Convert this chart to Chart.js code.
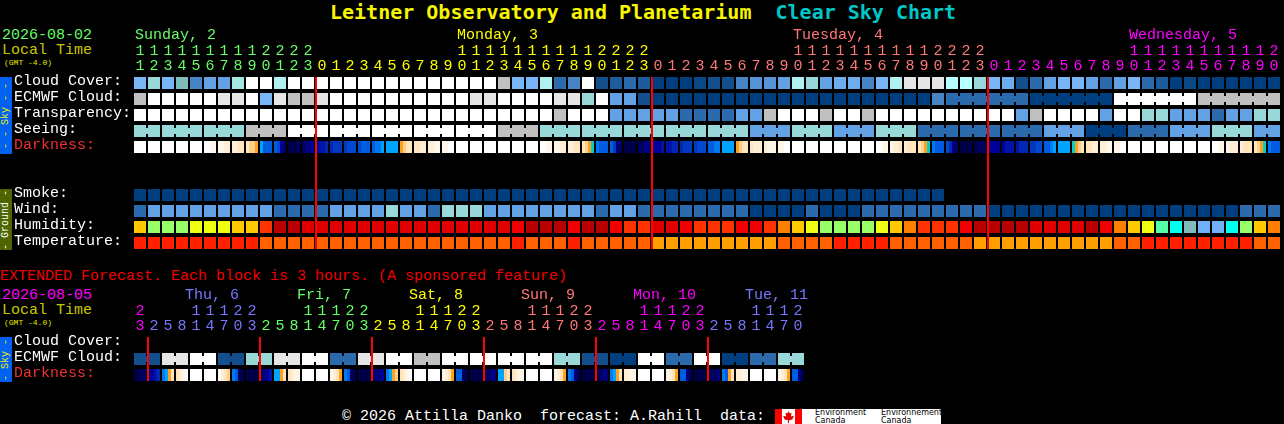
<!DOCTYPE html>
<html>
<head>
<meta charset="utf-8">
<title>Clear Sky Chart</title>
<script src="https://cdn.jsdelivr.net/npm/chart.js@4/dist/chart.umd.min.js"></script>
<style>
  html, body { margin: 0; background: #000; overflow: hidden; }
  #page { position: relative; width: 1284px; height: 424px; overflow: hidden; font-family: "Liberation Mono", monospace; font-size: 15px; }
  canvas { position: absolute; left: 0; }
  .t { position: absolute; white-space: pre; line-height: 16px; }
  .side { position: absolute; left: 0; width: 12px; overflow: hidden; }
  .side span { position: absolute; left: 50%; top: 50%; transform: translate(-50%, -50%) rotate(-90deg); font-size: 10px; white-space: pre; line-height: 12px; }
  #logo { position: absolute; left: 775px; top: 409px; width: 166px; height: 15px; background: #fff; overflow: hidden; }
  #logo div { position: absolute; }
  #logo .en { color: #000; font: 8px/8px "DejaVu Sans", sans-serif; white-space: pre; top: 0; }
</style>
</head>
<body>
<div id="page">
  <div class="t" style="left:330px;top:0;line-height:24px;font-size:20px;font-weight:bold;font-family:'DejaVu Sans Mono',monospace;color:#f6f600">Leitner Observatory and Planetarium  <span style="color:#00c8c8">Clear Sky Chart</span></div>
  <div class="t" style="left:2px;top:28px;color:#66ff66">2026-08-02</div>
  <div class="t" style="left:2px;top:43px;color:#c8c800">Local Time</div>
  <div class="t" style="left:4px;top:58px;font-size:8px;line-height:10px;color:#e8e800">(GMT -4.0)</div>
  <div class="side" style="top:77px;height:77px;background:#0060f0;color:#f0f000"><span>- - Sky - -</span></div>
  <div class="side" style="top:189px;height:61px;background:#506400;color:#fff"><span>- Ground -</span></div>
  <canvas id="mainChart" width="1284" height="251" style="top:0"></canvas>

  <div class="t" style="left:0;top:269px;color:#f00000">EXTENDED Forecast. Each block is 3 hours. (A sponsored feature)</div>
  <div class="t" style="left:2px;top:288px;color:#ff00ff">2026-08-05</div>
  <div class="t" style="left:2px;top:303px;color:#c8c800">Local Time</div>
  <div class="t" style="left:4px;top:318px;font-size:8px;line-height:10px;color:#e8e800">(GMT -4.0)</div>
  <div class="side" style="top:337px;height:45px;background:#0060f0;color:#f0f000"><span>- Sky -</span></div>
  <canvas id="extChart" width="1284" height="113" style="top:270px"></canvas>

  <div class="t" style="left:342px;top:409px;color:#fff">© 2026 Attilla Danko  forecast: A.Rahill  data:</div>
  <div id="logo">
    <div style="left:0;top:0;width:7px;height:15px;background:#ff0000"></div>
    <div style="left:20px;top:0;width:7px;height:15px;background:#ff0000"></div>
    <div style="left:8px;top:2px;width:11px;height:12px;background:#e00000;clip-path:polygon(50% 0,62% 20%,78% 15%,72% 45%,100% 40%,85% 70%,55% 78%,55% 100%,45% 100%,45% 78%,15% 70%,0 40%,28% 45%,22% 15%,38% 20%)"></div>
    <div class="en" style="left:40px">Environment
Canada</div>
    <div class="en" style="left:106px">Environnement
Canada</div>
  </div>
</div>

<script>
// ---- datos del pronostico por hora (una columna = 1 hora) ----
const hours = [11,12,13,14,15,16,17,18,19,20,21,22,23,
  0,1,2,3,4,5,6,7,8,9,10,11,12,13,14,15,16,17,18,19,20,21,22,23,
  0,1,2,3,4,5,6,7,8,9,10,11,12,13,14,15,16,17,18,19,20,21,22,23,
  0,1,2,3,4,5,6,7,8,9,10,11,12,13,14,15,16,17,18,19,20];
const dayNames = ['Sunday, 2', 'Monday, 3', 'Tuesday, 4', 'Wednesday, 5'];
const dayNameCols = [0, 23, 47, 71];
const dayFirstCols = [0, 13, 37, 61];
const dayColors = ['#66ff66', '#ffff00', '#ff7777', '#ff00ff'];

const cloudCover = [50,65,50,60,30,40,40,68,100,100,
  70,100,100,100,100,100,100,100,100,100,
  100,100,100,100,100,100,80,50,50,70,
  20,30,100,10,15,20,15,0,0,0,
  5,10,10,30,35,35,40,70,65,40,
  45,45,30,50,70,90,90,90,72,72,
  65,50,45,10,20,40,50,50,40,20,
  40,50,20,15,0,5,0,0,0,0,
  0,0];
const ecmwfCloud = [80,100,100,100,100,100,90,90,100,50,
  90,80,80,90,100,100,100,100,100,100,
  100,100,100,100,90,90,100,100,100,100,
  90,90,65,100,40,40,10,0,0,0,
  0,0,0,0,0,0,0,0,0,0,
  0,0,0,0,0,0,0,30,20,20,
  20,20,20,20,0,0,0,0,0,0,
  100,100,100,100,100,100,80,80,80,80,
  80,80];
const ecmwfRuns = [1,1,1,1,1,1,1,1,1,1,1,1,1,1,1,1,1,1,1,1,1,1,1,1,1,1,1,1,1,1,
  1,1,1,1,1,1,1,1,1,1,1,1,1,1,1,1,1,1,1,1,1,1,1,1,1,1,1,1,6,6,6,6];
const transparency = [100,100,100,100,100,100,100,100,100,100,
  100,100,100,100,100,100,100,100,100,100,
  100,100,100,100,100,100,100,100,100,100,
  80,100,100,100,40,40,40,40,40,20,
  20,20,20,40,40,80,100,100,100,80,
  100,100,80,100,100,100,100,100,100,100,
  100,100,100,40,80,100,100,100,100,40,
  100,100,65,65,40,40,40,20,40,40,
  65,65];
const seeing = [65,65,65,65,65,65,65,65,80,80,
  80,100,100,100,100,100,100,100,100,100,
  100,100,100,100,100,100,80,80,80,65,
  65,65,65,65,65,65,65,65,65,65,
  65,65,65,65,40,40,40,65,65,65,
  40,40,40,65,65,65,20,20,20,20,
  20,20,20,20,20,40,40,40,0,0,
  0,20,20,20,40,40,40,65,65,65,
  40,40];
const seeingRuns = [2,3,3,3,3,3,3,3,3,3,3,3,3,3,3,3,3,3,3,3,3,3,3,3,3,3,3,2];
// oscuridad: 4 muestras por bloque, 0 = dia ... 17 = noche cerrada
const darkness = [
  0,0,0,0, 0,0,0,0, 0,0,0,0, 0,0,0,0, 0,0,0,0,
  0,0,1,1, 1,1,2,2, 2,2,3,3, 3,4,4,5, 7,9,9,9,
  9,10,14,16, 17,17,17,16, 16,15,15,14, 14,13,13,12, 12,11,11,11,
  11,10,10,10, 10,9,9,9, 9,8,8,7, 7,7,7,7, 5,4,3,3,
  3,3,2,2, 2,2,1,1, 1,1,0,0, 0,0,0,0, 0,0,0,0,
  0,0,0,0, 0,0,0,0, 0,0,0,0, 0,0,0,0, 0,0,1,1,
  1,1,2,2, 2,2,3,3, 3,4,5,6, 8,9,9,9, 9,11,15,16,
  17,17,17,17, 16,16,15,15, 14,14,14,13, 13,13,12,12, 12,11,11,11,
  11,10,10,10, 9,9,8,8, 7,7,7,7, 5,4,3,3, 3,2,2,2,
  2,1,1,1, 1,1,0,0, 0,0,0,0, 0,0,0,0, 0,0,0,0,
  0,0,0,0, 0,0,0,0, 0,0,0,0, 0,0,1,1, 1,2,2,3,
  2,3,3,3, 3,4,5,6, 8,9,9,9, 10,12,15,16, 17,17,17,17,
  17,16,16,16, 15,14,14,14, 14,13,13,13, 13,12,12,12, 11,11,10,10,
  9,9,8,7, 7,7,7,7, 6,5,4,3, 3,3,2,2, 2,2,1,1,
  1,1,0,0, 0,0,0,0, 0,0,0,0, 0,0,0,0, 0,0,0,0,
  0,0,0,0, 0,0,0,0, 0,0,1,1, 1,2,2,2, 2,3,3,3,
  3,4,5,6, 8,9,9,9];
const smoke = [0,0,0,0,0,0,0,0,0,0,0,0,0,0,0,0,0,0,0,0,0,0,0,0,0,0,0,0,0,0,
  0,0,0,0,0,0,0,0,0,0,0,0,0,0,0,0,0,0,0,0,0,0,0,0,0,0,0,0];
const wind = [20,40,40,40,40,40,40,40,40,40,
  20,20,20,20,40,40,40,40,65,40,
  40,20,65,65,65,40,40,40,40,40,
  40,40,40,20,40,40,20,20,20,20,
  20,20,20,20,0,0,0,0,20,0,
  0,0,20,20,20,20,20,20,20,20,
  20,0,0,0,0,0,0,0,0,0,
  0,0,0,0,0,0,0,0,0,20,
  20,20];
const humidity = [60,50,50,50,55,55,55,60,60,70,
  90,90,80,80,80,80,80,80,80,80,
  80,80,80,80,80,80,80,75,90,90,
  90,75,90,90,75,70,70,80,80,75,
  70,70,70,75,75,70,65,60,55,50,
  50,50,50,55,60,65,70,70,70,75,
  90,90,90,90,80,80,80,80,90,75,
  65,60,55,45,40,35,30,30,40,50,
  60,65];
const temperature = [30,30,30,30,30,30,30,30,30,27,
  27,27,27,27,27,27,27,27,27,27,
  27,27,27,27,27,27,27,30,27,27,
  27,30,27,27,27,27,27,24,24,24,
  24,24,24,24,24,24,27,27,27,27,
  30,30,30,30,27,27,27,27,27,27,
  24,24,24,24,24,24,24,24,24,24,
  27,27,30,30,30,30,30,30,30,30,
  27,27];
const midnightCols = [13, 37, 61];

// ---- pronostico extendido (una columna = 3 horas) ----
const extHours = [23,
  2,5,8,11,14,17,20,23, 2,5,8,11,14,17,20,23, 2,5,8,11,14,17,20,23,
  2,5,8,11,14,17,20,23, 2,5,8,11,14,17,20,23, 2,5,8,11,14,17,20];
const extDayNames = ['Thu, 6', 'Fri, 7', 'Sat, 8', 'Sun, 9', 'Mon, 10', 'Tue, 11'];
const extDayNameCols = [3.57, 11.57, 19.57, 27.57, 35.57, 43.57];
const extDayFirstCols = [0, 1, 9, 17, 25, 33, 41];
const extDayColors = ['#ff00ff', '#7777ff', '#66ff66', '#ffff00', '#ff7777', '#ff00ff', '#7777ff'];
const extEcmwf = [10,10,90,90,100,100,10,10,65,65,90,90,100,100,20,20,90,90,100,100,80,80,100,100,
  100,100,100,100,100,100,65,65,10,10,0,0,100,100,20,20,100,100,0,0,20,20,65,65];
const extEcmwfRuns = [2,2,2,2,2,2,2,2,2,2,2,2,2,2,2,2,2,2,2,2,2,2,2,2];
const extDarkness = [
  17,17,16,16, 14,14,13,12, 8,7,5,3, 3,2,1,0, 0,0,0,0, 0,0,0,0, 0,2,3,4, 8,9,16,17,
  17,17,17,17, 16,15,14,13, 7,7,5,3, 3,2,1,1, 0,0,0,0, 0,0,0,0, 1,2,3,5, 8,9,16,17,
  17,17,17,17, 16,15,15,14, 8,7,5,4, 3,2,1,0, 0,0,0,0, 0,0,0,0, 1,2,3,5, 9,9,16,17,
  17,17,17,17, 16,16,15,15, 7,7,4,3, 3,2,1,1, 0,0,0,0, 0,0,0,0, 1,2,3,5, 8,9,15,17,
  17,17,17,17, 17,16,15,15, 8,7,5,3, 2,2,1,1, 0,0,0,0, 0,0,0,0, 1,2,3,5, 9,9,15,17,
  17,17,17,17, 17,16,16,15, 8,9,5,3, 2,2,1,1, 0,0,0,0, 0,0,0,0, 1,2,3,5, 9,9,15,17];
const extMidnightCols = [1, 9, 17, 25, 33, 41];

// ---- paletas ----
const cloudColors = {0:'#003f7f',5:'#0a4785',10:'#134f8d',15:'#1d5c9c',20:'#2b6bad',30:'#4684c6',35:'#5594d6',
  40:'#62a2e4',45:'#6daced',50:'#78b6f8',60:'#80bcbc',65:'#98d8d8',68:'#a6e6e2',70:'#b0f0f0',72:'#b8ffff',
  80:'#c0c0c0',90:'#e6e6e6',100:'#ffffff'};
const humidityColors = {30:'#70b0f8',35:'#80bcbc',40:'#00ffee',45:'#55ffaa',50:'#99ff66',55:'#eeff11',60:'#ffc800',
  65:'#ff8000',70:'#ff3300',75:'#f00000',80:'#e00000',90:'#b80000'};
const tempColors = {24:'#ffa000',27:'#ff6000',30:'#ff2000'};
const darkColors = ['#ffffff','#fff6ea','#ffeed6','#ffe4bc','#ffd08c','#ffa020','#00d0d0','#00a4ff','#0078f0',
  '#005ce0','#0048d0','#0038c0','#0028b4','#0014a8','#00009c','#000080','#000060','#000048'];

const FONT = '"Liberation Mono", monospace';

// Bloques de una fila, mas los puentecitos entre bloques del mismo pronostico
function rowDatasets(row, values, colors, runs) {
  const sets = [{
    data: values.map((v, i) => ({ y: row, x: [i - 6 / 14, i + 6 / 14] })),
    backgroundColor: values.map(v => colors[v]),
    barThickness: 12
  }];
  if (runs) {
    const links = [];
    let col = 0;
    runs.forEach(n => {
      for (let k = 0; k < n - 1; k++) links.push(col + k);
      col += n;
    });
    sets.push({
      data: links.map(c => ({ y: row, x: [c + 5 / 14, c + 9 / 14] })),
      backgroundColor: links.map(c => colors[values[c]]),
      barThickness: 6
    });
  }
  return sets;
}

// La oscuridad cambia dentro del bloque, por eso va en 4 tiras de 3px
function darknessDataset(row, samples) {
  return {
    data: samples.map((s, n) => {
      const col = Math.floor(n / 4), part = n % 4;
      const left = col - 6 / 14 + part * 3 / 14;
      return { y: row, x: [left, left + 3 / 14] };
    }),
    backgroundColor: samples.map(s => darkColors[s]),
    barThickness: 12
  };
}

// Lineas rojas de medianoche
const midnightPlugin = {
  id: 'midnight',
  afterDatasetsDraw(chart, args, opts) {
    const { ctx, chartArea, scales } = chart;
    ctx.save();
    ctx.fillStyle = '#ff0000';
    opts.cols.forEach(c => {
      const px = scales.x.getPixelForValue(c) - 7;
      ctx.fillRect(px, chartArea.top + 2, 2, chartArea.bottom - chartArea.top - 4);
    });
    ctx.restore();
  }
};

function dayColorFor(col, firstCols, colors) {
  let d = 0;
  firstCols.forEach((f, n) => { if (col >= f) d = n; });
  return colors[d];
}

function makeChart(id, cfg) {
  return new Chart(document.getElementById(id), {
    type: 'bar',
    data: { labels: cfg.rows, datasets: cfg.datasets },
    plugins: [midnightPlugin],
    options: {
      indexAxis: 'y',
      responsive: false,
      animation: false,
      devicePixelRatio: 1,
      events: [],
      layout: { padding: { left: 14, right: 1284 - 133 - cfg.hours.length * 14, top: 0, bottom: 0 } },
      datasets: { bar: { grouped: false, inflateAmount: 0, borderSkipped: false } },
      plugins: { legend: { display: false }, tooltip: { enabled: false }, midnight: { cols: cfg.midnights } },
      scales: {
        x: {
          type: 'linear',
          position: 'top',
          min: -0.5,
          max: cfg.hours.length - 0.5,
          grid: { display: false },
          border: { display: false },
          afterBuildTicks: s => { s.ticks = cfg.hours.map((h, i) => ({ value: i })); },
          afterFit: s => { s.height = cfg.axisHeight; s.paddingLeft = 0; s.paddingRight = 0; },
          ticks: {
            autoSkip: false, maxRotation: 0, minRotation: 0, padding: -7,
            font: { family: FONT, size: 15, lineHeight: 1 },
            color: c => dayColorFor(c.index, cfg.dayFirst, cfg.dayColors),
            callback: (v, i) => {
              const h = cfg.hours[i];
              return h < 10 ? ['', String(h)] : [String(h)[0], String(h)[1]];
            }
          }
        },
        y: {
          grid: { display: false },
          border: { display: false },
          afterFit: s => { s.width = 119; s.paddingTop = 0; s.paddingBottom = 0; },
          ticks: {
            autoSkip: false, crossAlign: 'far', labelOffset: -2,
            font: { family: FONT, size: 15 },
            color: c => (c.tick.label === 'Darkness:' ? '#f03030' : '#ffffff')
          }
        }
      }
    }
  });
}

makeChart('mainChart', {
  rows: ['Cloud Cover:', 'ECMWF Cloud:', 'Transparency:', 'Seeing:', 'Darkness:', ' ', '  ', 'Smoke:', 'Wind:', 'Humidity:', 'Temperature:'],
  hours: hours, dayFirst: dayFirstCols, dayColors: dayColors, midnights: midnightCols, axisHeight: 75,
  datasets: [
    ...rowDatasets('Cloud Cover:', cloudCover, cloudColors),
    ...rowDatasets('ECMWF Cloud:', ecmwfCloud, cloudColors, ecmwfRuns),
    ...rowDatasets('Transparency:', transparency, cloudColors),
    ...rowDatasets('Seeing:', seeing, cloudColors, seeingRuns),
    darknessDataset('Darkness:', darkness),
    ...rowDatasets('Smoke:', smoke, cloudColors),
    ...rowDatasets('Wind:', wind, cloudColors),
    ...rowDatasets('Humidity:', humidity, humidityColors),
    ...rowDatasets('Temperature:', temperature, tempColors)
  ]
});

makeChart('extChart', {
  rows: ['Cloud Cover:', 'ECMWF Cloud:', 'Darkness:'],
  hours: extHours, dayFirst: extDayFirstCols, dayColors: extDayColors, midnights: extMidnightCols, axisHeight: 65,
  datasets: [
    ...rowDatasets('ECMWF Cloud:', extEcmwf, cloudColors, extEcmwfRuns),
    darknessDataset('Darkness:', extDarkness)
  ]
});

// Nombres de los dias, sobre la columna donde empiezan
const page = document.getElementById('page');
function dayLabel(text, col, top, color) {
  const d = document.createElement('div');
  d.className = 't';
  d.textContent = text;
  d.style.left = Math.round(135 + col * 14) + 'px';
  d.style.top = top + 'px';
  d.style.color = color;
  page.appendChild(d);
}
dayNames.forEach((n, i) => dayLabel(n, dayNameCols[i], 28, dayColors[i]));
extDayNames.forEach((n, i) => dayLabel(n, extDayNameCols[i], 288, extDayColors[i + 1]));
</script>
</body>
</html>
